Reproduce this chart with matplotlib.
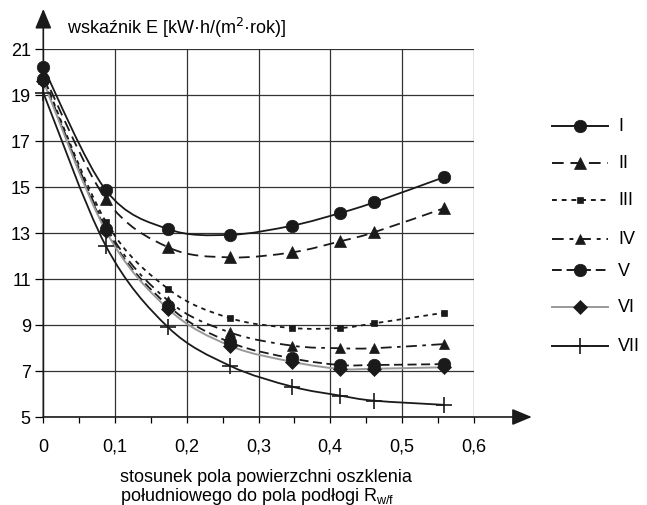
import numpy as np
import matplotlib.pyplot as plt
from matplotlib.path import Path
from matplotlib.patches import PathPatch
from matplotlib.lines import Line2D

plt.rcParams['font.family'] = ['Liberation Sans', 'DejaVu Sans']

# wartosci
x = [0, 0.087, 0.174, 0.26, 0.347, 0.414, 0.461, 0.558]
E_I = [20.2, 14.87, 13.17, 12.92, 13.32, 13.87, 14.33, 15.42]
E_II = [19.9, 14.48, 12.38, 11.94, 12.16, 12.64, 13.03, 14.07]
E_III = [19.8, 13.5, 10.57, 9.3, 8.87, 8.87, 9.07, 9.53]
E_IV = [19.7, 13.3, 10.06, 8.68, 8.1, 7.99, 7.99, 8.17]
E_V = [19.7, 13.17, 9.84, 8.25, 7.55, 7.26, 7.26, 7.3]
E_VI = [19.6, 13.1, 9.7, 8.1, 7.4, 7.09, 7.1, 7.16]
E_VII = [19.1, 12.45, 8.9, 7.23, 6.32, 5.93, 5.71, 5.53]
labels = ['I', 'II', 'III', 'IV', 'V', 'VI', 'VII']
series = [E_I, E_II, E_III, E_IV, E_V, E_VI, E_VII]

styles = [
    dict(color='#1a1a1a', ls='-', marker='o', ms=9),
    dict(color='#1a1a1a', ls=(0, (6, 3.5)), marker='^', ms=9),
    dict(color='#1a1a1a', ls=(0, (2.5, 2.5)), marker='s', ms=4.5),
    dict(color='#1a1a1a', ls=(0, (6, 3, 2, 3)), marker='^', ms=7.5),
    dict(color='#1a1a1a', ls=(0, (5, 2.5)), marker='o', ms=9),
    dict(color='#999999', ls='-', marker='D', ms=7),
    dict(color='#1a1a1a', ls='-', marker='+', ms=11),
]


def smooth_path(xs, ys):
    # krzywa Beziera przez punkty (jak wygladzanie w Excelu)
    p = np.column_stack([xs, ys]).astype(float)
    verts = [p[0]]
    codes = [Path.MOVETO]
    n = len(p)
    for i in range(n - 1):
        p0 = p[i - 1] if i > 0 else p[i]
        p3 = p[i + 2] if i + 2 < n else p[i + 1]
        c1 = p[i] + (p[i + 1] - p0) / 6.0
        c2 = p[i + 1] - (p3 - p[i]) / 6.0
        verts += [c1, c2, p[i + 1]]
        codes += [Path.CURVE4] * 3
    return Path(verts, codes)


fig = plt.figure(figsize=(6.47, 5.06), dpi=100)
ax = fig.add_axes([43.3 / 647, 88 / 506, 430.4 / 647, 368 / 506])
ax.set_xlim(0, 0.6)
ax.set_ylim(5, 21)

ax.set_xticks(np.arange(0, 0.61, 0.1))
ax.set_xticks(np.arange(0.05, 0.6, 0.1), minor=True)
ax.set_xticklabels(['0', '0,1', '0,2', '0,3', '0,4', '0,5', '0,6'], fontsize=13)
ax.set_yticks(np.arange(5, 22, 2))
ax.set_yticklabels([str(v) for v in range(5, 22, 2)], fontsize=13)
ax.tick_params(axis='x', which='both', direction='out', length=4, width=0.9, pad=11)
ax.tick_params(axis='y', direction='out', length=6, width=0.9, pad=3)
ax.grid(True, color='#333333', lw=0.9)
for s in ax.spines.values():
    s.set_visible(False)

# osie ze strzalkami
ax.annotate('', xy=(1.135, 0), xytext=(0, 0), xycoords='axes fraction',
            arrowprops=dict(arrowstyle='-|>,head_length=1.2,head_width=0.5',
                            color='#1a1a1a', lw=1.2, shrinkA=0, shrinkB=0),
            annotation_clip=False)
ax.annotate('', xy=(0, 1.109), xytext=(0, 0), xycoords='axes fraction',
            arrowprops=dict(arrowstyle='-|>,head_length=1.2,head_width=0.5',
                            color='#1a1a1a', lw=1.2, shrinkA=0, shrinkB=0),
            annotation_clip=False)

for ys, st in zip(series, styles):
    lw = 1.4 if st['color'] == '#999999' else 1.3
    patch = PathPatch(smooth_path(x, ys), fill=False, edgecolor=st['color'],
                      lw=lw, linestyle=st['ls'], clip_on=False, zorder=3)
    ax.add_patch(patch)
    ax.plot(x, ys, ls='none', marker=st['marker'], ms=st['ms'], color='#1a1a1a',
            mew=1.2 if st['marker'] == '+' else 0.5, clip_on=False, zorder=4)

fig.text(67 / 647, 1 - 28 / 506, 'wskaźnik E [kW·h/(m$^2$·rok)]', fontsize=13,
         va='center', ha='left')
fig.text(120 / 647, 1 - 478 / 506, 'stosunek pola powierzchni oszklenia',
         fontsize=13, va='center', ha='left')
fig.text(120 / 647, 1 - 497 / 506, 'południowego do pola podłogi R$_{\\mathregular{w/f}}$',
         fontsize=13, va='center', ha='left')

# legenda rysowana recznie
leg_y = [126.7, 164, 201, 240, 271, 308, 346.7]
for lab, st, yy in zip(labels, styles, leg_y):
    fy = 1 - yy / 506
    fig.add_artist(Line2D([552 / 647, 608 / 647], [fy, fy], color=st['color'],
                          ls=st['ls'], lw=1.4))
    fig.add_artist(Line2D([580 / 647], [fy], ls='none', marker=st['marker'],
                          ms=st['ms'], color='#1a1a1a',
                          mew=1.2 if st['marker'] == '+' else 0.5))
    fig.text(618 / 647, fy, lab, fontsize=13, va='center', ha='left')

fig.savefig('out.png', dpi=100)
